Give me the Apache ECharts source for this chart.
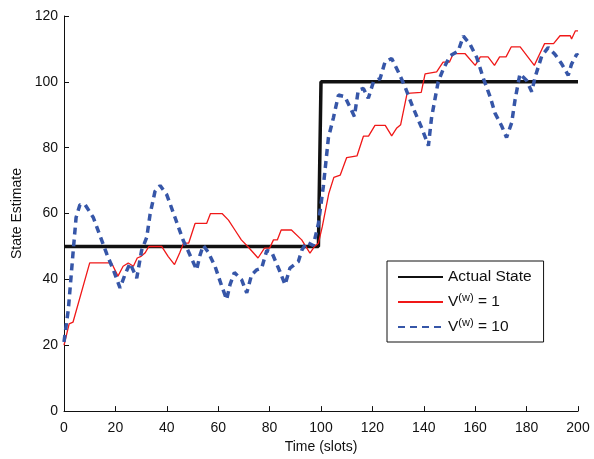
<!DOCTYPE html>
<html>
<head>
<meta charset="utf-8">
<script src="https://cdn.jsdelivr.net/npm/echarts@6/dist/echarts.min.js"></script>
<style>html,body{margin:0;padding:0;background:#fff;overflow:hidden}#c{width:594px;height:459px}</style>
</head>
<body>
<div id="c"></div>
<script>
var xTicks = [0, 20, 40, 60, 80, 100, 120, 140, 160, 180, 200];
var yTicks = [0, 20, 40, 60, 80, 100, 120];
var seriesNames = ['Actual State', 'V(w) = 1', 'V(w) = 10'];

var actualT = [0, 99, 100, 200];
var actualV = [50, 50, 100, 100];

var redT = [0, 2, 3.5, 10, 18.5, 21, 23, 25, 27, 28.5, 30, 31.5, 33, 38, 40.5, 43, 45, 46.5, 48.5, 51, 55.5, 57, 61.5, 64, 66.5, 69, 71.5, 75.5, 78, 80, 81.5, 83, 84.5, 88.5, 92.5, 95.7, 97.5, 99, 100.5, 103, 105, 107.5, 110, 114, 116.5, 118.5, 121, 125, 127.5, 129.5, 131, 133.5, 139, 140.5, 145, 147.5, 150, 151.5, 156, 160, 162, 165, 167.5, 169.5, 172, 174, 177.5, 183, 186, 187, 190.5, 193, 197, 197.5, 199, 200];
var redV = [20, 26.5, 27, 45, 45, 41, 44, 45, 44, 46.5, 47, 48, 50, 50, 47, 44.5, 48, 51, 51, 57, 57, 60, 60, 58, 55, 52, 50, 46.5, 49.5, 49.5, 52, 52, 55, 55, 52, 48, 50, 51, 56, 66, 71, 71.7, 77, 77.5, 83.5, 83.5, 86.8, 86.8, 83.6, 86, 87, 96.5, 96.8, 102.4, 103, 106, 106, 108.6, 108.6, 105, 107.6, 107.6, 105, 107.6, 107.6, 110.6, 110.6, 105, 110, 111.6, 111.6, 114, 114, 113, 115.5, 115.5];

var blueT = [0, 1.7, 3.6, 4.7, 6.2, 8.2, 11.4, 14, 16.6, 19.2, 21.8, 23.7, 25.7, 28.3, 30.2, 32.2, 33.5, 35.4, 37.4, 40, 43.2, 46.4, 48.4, 51.6, 52.9, 54.2, 56.1, 58.8, 61.4, 63.3, 64.6, 66.3, 69.1, 71.1, 73, 75, 76.9, 78.9, 80.8, 84, 86, 87.9, 91.2, 92.5, 94.4, 97, 99, 100.9, 102.9, 104.8, 106.8, 109.3, 113, 114.5, 116.5, 118.4, 120.4, 123, 124.9, 127.5, 130.1, 132.7, 135.9, 139.2, 141.8, 143, 144.4, 145.6, 147.6, 150.2, 153.4, 155.4, 158, 160.6, 163.2, 165.8, 167.7, 170.3, 172.2, 174.2, 175.5, 177.4, 180, 182, 183.3, 185.9, 188.4, 191, 193.7, 196.2, 197.5, 199.5, 200];
var blueV = [21, 31, 48.8, 58.8, 62.7, 62.7, 58.8, 53.3, 47.8, 42.9, 37.4, 41.4, 44.9, 40.4, 48.8, 52.8, 59.8, 66.7, 68.5, 65.7, 58.8, 51.8, 48.5, 42.9, 47.3, 50.3, 48.3, 43.9, 37.9, 33.9, 38.4, 42.1, 39.9, 35.9, 41.4, 42.9, 43.4, 48.8, 48.3, 42.4, 38.4, 43.4, 45.4, 48.8, 51.3, 50.3, 57, 68.2, 83.1, 89, 96, 95.5, 89.5, 97.5, 98, 95, 100, 101, 106, 107.1, 103, 98.5, 92, 86, 80.6, 89, 95, 100, 103.9, 107.9, 109.4, 113.9, 111.4, 107.4, 101, 95.5, 90.5, 86.6, 83.1, 87.6, 94.5, 102.4, 100.4, 97, 101.4, 107.9, 110.4, 108.4, 105.4, 102, 105.4, 108.4, 108];

function pairs(t, v) { return t.map(function (x, i) { return [x, v[i]]; }); }

var FONT = 'Liberation Sans, Arial, Helvetica, sans-serif';
var chart = echarts.init(document.getElementById('c'), null, { renderer: 'canvas', width: 594, height: 459 });
chart.setOption({
  animation: false,
  backgroundColor: '#fff',
  textStyle: { fontFamily: FONT },
  grid: { left: 64, top: 16, width: 514, height: 403, containLabel: false },
  xAxis: {
    type: 'value', min: xTicks[0], max: xTicks[xTicks.length - 1], interval: 20,
    name: 'Time (slots)', nameLocation: 'middle', nameGap: 24,
    nameTextStyle: { color: '#111', fontSize: 14, fontFamily: FONT },
    axisLine: { show: true, lineStyle: { color: '#111', width: 1 } },
    axisTick: { show: true, inside: true, length: 5, lineStyle: { color: '#111' } },
    axisLabel: { color: '#111', fontSize: 14, margin: 10, fontFamily: FONT },
    splitLine: { show: false }
  },
  yAxis: {
    type: 'value', min: yTicks[0], max: yTicks[yTicks.length - 1], interval: 20,
    name: 'State Estimate', nameLocation: 'middle', nameGap: 37, nameRotate: 90,
    nameTextStyle: { color: '#111', fontSize: 14, fontFamily: FONT },
    axisLine: { show: true, lineStyle: { color: '#111', width: 1 } },
    axisTick: { show: true, inside: true, length: 5, lineStyle: { color: '#111' } },
    axisLabel: { color: '#111', fontSize: 14, margin: 6, fontFamily: FONT },
    splitLine: { show: false }
  },
  legend: {
    orient: 'vertical', left: 387, top: 261,
    data: seriesNames,
    backgroundColor: '#fff', borderColor: '#111', borderWidth: 1,
    padding: [8, 12, 7, 10], itemGap: 7, itemWidth: 45, itemHeight: 14,
    itemStyle: { opacity: 0, borderWidth: 0 },
    textStyle: {
      color: '#111', fontSize: 15.5, fontFamily: FONT,
      rich: {
        n: { fontSize: 15.5, fontFamily: FONT, color: '#111' },
        s: { fontSize: 11, fontFamily: FONT, color: '#111', padding: [0, 0, 9, 0] }
      }
    },
    formatter: function (name) {
      if (name.indexOf('V(w)') === 0) {
        return '{n|V}{s|(w)}{n|' + name.slice(4) + '}';
      }
      return name;
    }
  },
  series: [
    {
      name: seriesNames[0], type: 'line', data: pairs(actualT, actualV),
      showSymbol: false, symbol: 'none', z: 3,
      lineStyle: { color: '#111', width: 3.5 }, itemStyle: { color: '#111' }
    },
    {
      name: seriesNames[1], type: 'line', data: pairs(redT, redV),
      showSymbol: false, symbol: 'none', z: 4,
      lineStyle: { color: '#f01818', width: 1.3 }, itemStyle: { color: '#f01818' }
    },
    {
      name: seriesNames[2], type: 'line', data: pairs(blueT, blueV),
      showSymbol: false, symbol: 'none', z: 5,
      lineStyle: { color: '#3656a8', width: 3.5, type: [7, 5] }, itemStyle: { color: '#3656a8' }
    }
  ]
});
</script>
</body>
</html>
